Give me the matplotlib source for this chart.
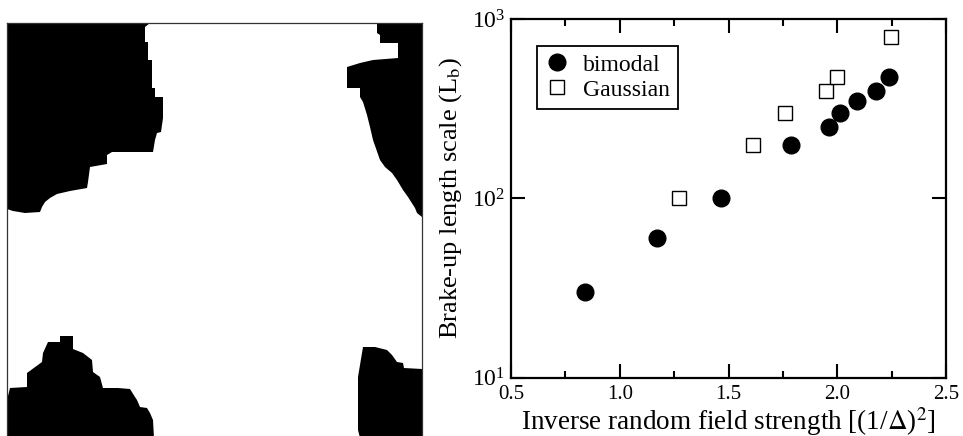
import numpy as np
import matplotlib
matplotlib.use("Agg")
import matplotlib.pyplot as plt
from matplotlib.ticker import MultipleLocator, NullLocator

plt.rcParams['font.family'] = ['Liberation Serif', 'DejaVu Serif']
plt.rcParams['mathtext.fontset'] = 'stix'

# --- data: break-up length scale vs inverse random field strength ---
bimodal_x = [0.84, 1.17, 1.466, 1.786, 1.964, 2.013, 2.092, 2.177, 2.24]
bimodal_y = [30, 60, 100, 200, 250, 300, 350, 400, 475]
gauss_x = [1.272, 1.614, 1.76, 1.947, 2.0, 2.246]
gauss_y = [100, 200, 300, 400, 475, 800]

x_ticks = [0.5, 1.0, 1.5, 2.0, 2.5]
x_tick_labels = ['0.5', '1.0', '1.5', '2.0', '2.5']

# --- domain snapshot: black domains as outlines in lattice pixels (x right, y down) ---
lattice_size = 415
domain_top_left = [(0, 0), (143, 0), (138, 4), (138, 19), (141, 19), (141, 37), (145, 37),
                   (145, 65), (148, 65), (148, 74), (156, 74), (156, 95), (154, 109),
                   (150, 110), (148, 117), (146, 129), (105, 129), (100, 132), (100, 141),
                   (83, 144), (81, 159), (80, 165), (63, 168), (50, 171), (43, 175),
                   (38, 179), (35, 184), (33, 189), (18, 190), (6, 188), (0, 186)]
domain_bottom_left = [(0, 377), (3, 365), (20, 364), (20, 350), (35, 339), (36, 330),
                      (41, 319), (53, 319), (53, 313), (66, 313), (66, 326), (76, 330),
                      (85, 337), (86, 349), (93, 354), (96, 365), (111, 365), (123, 366),
                      (128, 374), (130, 377), (133, 384), (140, 385), (143, 390),
                      (146, 397), (147, 415), (0, 415)]
domain_top_right = [(370, 0), (370, 10), (373, 12), (373, 20), (391, 20), (391, 35),
                    (366, 37), (353, 40), (340, 44), (340, 65), (353, 65), (353, 74),
                    (356, 79), (360, 92), (363, 104), (366, 117), (373, 137), (378, 144),
                    (385, 150), (390, 157), (396, 167), (401, 174), (408, 185),
                    (410, 190), (415, 194), (415, 0)]
domain_bottom_right = [(356, 324), (368, 324), (380, 327), (385, 332), (390, 339),
                       (396, 340), (397, 345), (415, 346), (415, 415), (353, 415),
                       (351, 407), (351, 354), (355, 330)]
domains = [domain_top_left, domain_bottom_left, domain_top_right, domain_bottom_right]

W, H = 963, 436
fig = plt.figure(figsize=(W / 100, H / 100), dpi=100)

# left: snapshot
ax_img = fig.add_axes([7 / W, (H - 438) / H, 415 / W, 415 / H])
for poly in domains:
    xs, ys = zip(*poly)
    ax_img.fill(xs, ys, color='black', lw=0)
ax_img.set_xlim(0, lattice_size)
ax_img.set_ylim(lattice_size, 0)
ax_img.set_xticks([])
ax_img.set_yticks([])
for sp in ax_img.spines.values():
    sp.set_linewidth(0.9)
    sp.set_color('#333333')

# right: log plot
ax = fig.add_axes([511 / W, (H - 377.7) / H, 435 / W, 358.4 / H])
ax.set_yscale('log')
ax.plot(bimodal_x, bimodal_y, 'o', color='black', markersize=12, label='bimodal')
ax.plot(gauss_x, gauss_y, 's', markerfacecolor='white', markeredgecolor='black',
        markeredgewidth=1.0, markersize=9.5, label='Gaussian')
ax.set_xlim(0.5, 2.5)
ax.set_ylim(10, 1000)
ax.set_xticks(x_ticks)
ax.set_xticklabels(x_tick_labels)
ax.xaxis.set_minor_locator(MultipleLocator(0.25))
ax.yaxis.set_minor_locator(NullLocator())
ax.tick_params(which='both', direction='in', top=True, right=True, width=1.5)
ax.tick_params(which='major', length=10)
ax.tick_params(which='minor', length=5)
ax.tick_params(axis='x', labelsize=15, pad=5)
ax.tick_params(axis='y', labelsize=17, pad=4)
for sp in ax.spines.values():
    sp.set_linewidth(1.6)

ax.set_xlabel(r'Inverse random field strength [(1/$\Delta$)$^2$]', fontsize=19.5, labelpad=1)
ax.set_ylabel(r'Brake-up length scale (L$_\mathrm{b}$)', fontsize=19, labelpad=6)

leg = ax.legend(loc='upper left', bbox_to_anchor=(0.06, 0.926), borderaxespad=0,
                fancybox=False, edgecolor='black', fontsize=17, handlelength=1.0,
                handletextpad=0.6, borderpad=0.35, labelspacing=0.15, framealpha=1)
leg.get_frame().set_linewidth(1.3)

fig.savefig('out.png', dpi=100)
